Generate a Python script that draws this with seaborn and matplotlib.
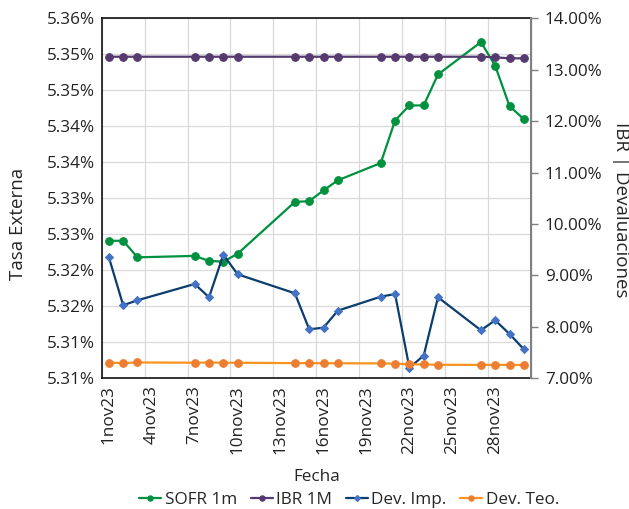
from decimal import Decimal, ROUND_HALF_UP
import numpy as np
import pandas as pd
import matplotlib
matplotlib.use('Agg')
import matplotlib.pyplot as plt
import matplotlib.ticker as mticker
import seaborn as sns

# datos (noviembre 2023)
dias = [1, 2, 3, 7, 8, 9, 10, 14, 15, 16, 17, 20, 21, 22, 23, 24, 27, 28, 29, 30]
sofr_1m = [5.3241, 5.3241, 5.3218, 5.3220, 5.3213, 5.3212, 5.3223, 5.3295, 5.3296, 5.3311,
           5.3325, 5.3349, 5.3408, 5.3429, 5.3429, 5.3472, 5.3517, 5.3484, 5.3428, 5.3410]
ibr_1m = [13.253, 13.253, 13.253, 13.253, 13.253, 13.253, 13.253, 13.253, 13.253, 13.253,
          13.253, 13.253, 13.253, 13.253, 13.253, 13.253, 13.253, 13.242, 13.222, 13.222]
dev_imp = [9.353, 8.420, 8.517, 8.834, 8.575, 9.403, 9.022, 8.653, 7.953, 7.984,
           8.315, 8.587, 8.639, 7.206, 7.440, 8.575, 7.934, 8.128, 7.862, 7.564]
dev_teo = [7.304, 7.295, 7.308, 7.303, 7.306, 7.302, 7.302, 7.295, 7.295, 7.293,
           7.292, 7.290, 7.285, 7.272, 7.270, 7.262, 7.261, 7.260, 7.260, 7.260]
dias_ticks = [1, 4, 7, 10, 13, 16, 19, 22, 25, 28]
etiquetas_x = ['{}nov23'.format(d) for d in dias_ticks]

sns.set_style('white')
plt.rcParams['font.family'] = ['Open Sans', 'DejaVu Sans']
FS = 12.3
plt.rc('font', size=FS)

medio_dia = pd.Timedelta(hours=12)
df = pd.DataFrame({
    'fecha': pd.to_datetime(['2023-11-{:02d}'.format(d) for d in dias]) + medio_dia,
    'sofr': sofr_1m, 'ibr': ibr_1m, 'imp': dev_imp, 'teo': dev_teo})

fig = plt.figure(figsize=(6.29, 5.09), dpi=100)
ax = fig.add_axes([0.1617, 0.2568, 0.6825, 0.7072])
ax2 = ax.twinx()

sns.lineplot(data=df, x='fecha', y='sofr', ax=ax, color='#00913F', linewidth=1.6,
             marker='o', markersize=5.5, markeredgecolor='#00913F', label='SOFR 1m')
sns.lineplot(data=df, x='fecha', y='ibr', ax=ax2, color='#553A70', linewidth=1.6,
             marker='o', markersize=5.5, markeredgecolor='#553A70', label='IBR 1M')
sns.lineplot(data=df, x='fecha', y='imp', ax=ax2, color='#0B3D6E', linewidth=1.6,
             marker='D', markersize=4.5, markerfacecolor='#4472C4', markeredgecolor='#4472C4',
             label='Dev. Imp.')
sns.lineplot(data=df, x='fecha', y='teo', ax=ax2, color='#F7931E', linewidth=1.6,
             marker='o', markersize=5.5, markerfacecolor='#ED7D31', markeredgecolor='#ED7D31',
             label='Dev. Teo.')

for a in (ax, ax2):
    if a.get_legend() is not None:
        a.get_legend().remove()

# grilla en el inicio de cada dia, etiqueta centrada en el dia (como eje de fechas de Excel)
dias_ts = [pd.Timestamp('2023-11-{:02d}'.format(d)) for d in dias_ticks]
ax.set_xlim(pd.Timestamp('2023-11-01'), pd.Timestamp('2023-12-01'))
ax.set_xticks([t + medio_dia for t in dias_ts])
ax.set_xticklabels(etiquetas_x, rotation=90)
ax.set_xticks(dias_ts, minor=True)

def fmt_izq(v, _):
    d = Decimal(str(round(v, 4))).quantize(Decimal('0.01'), rounding=ROUND_HALF_UP)
    return '{}%'.format(d)

ax.set_ylim(5.305, 5.355)
ax.yaxis.set_major_locator(mticker.MultipleLocator(0.005))
ax.yaxis.set_major_formatter(mticker.FuncFormatter(fmt_izq))
ax2.set_ylim(7, 14)
ax2.yaxis.set_major_locator(mticker.MultipleLocator(1))
ax2.yaxis.set_major_formatter(mticker.FuncFormatter(lambda v, _: '{:.2f}%'.format(v)))

ax.xaxis.grid(True, which='minor', color='#D9D9D9', linewidth=0.9)
ax.xaxis.grid(False, which='major')
ax.yaxis.grid(True, which='major', color='#D9D9D9', linewidth=0.9)
ax.set_axisbelow(True)
ax.tick_params(axis='both', which='both', length=0, pad=5, labelsize=FS, colors='#222222')
ax2.tick_params(axis='y', length=5, width=1, color='#808080', pad=5, labelsize=FS,
                labelcolor='#222222')

for s in ['left', 'bottom', 'top']:
    ax.spines[s].set_color('#111111')
    ax.spines[s].set_linewidth(1.2)
ax2.spines['right'].set_color('#808080')
ax2.spines['right'].set_linewidth(1.5)
ax2.spines['left'].set_visible(False)
ax2.spines['top'].set_visible(False)
ax2.spines['bottom'].set_visible(False)

ax.set_xlabel('Fecha', fontsize=FS, labelpad=11)
ax.set_ylabel('Tasa Externa', fontsize=13.5, va='center')
ax2.set_ylabel('IBR | Devaluaciones', fontsize=13.5, rotation=270, va='center')
ax.yaxis.set_label_coords(-0.195, 0.43)
ax2.yaxis.set_label_coords(1.21, 0.467)

h1, l1 = ax.get_legend_handles_labels()
h2, l2 = ax2.get_legend_handles_labels()
fig.legend(h1 + h2, l1 + l2, loc='center', bbox_to_anchor=(0.555, 0.018), ncol=4,
           frameon=False, handlelength=1.3, handletextpad=0.2, columnspacing=0.8,
           fontsize=FS, markerscale=0.7, borderaxespad=0)

fig.savefig('out.png', dpi=100)
